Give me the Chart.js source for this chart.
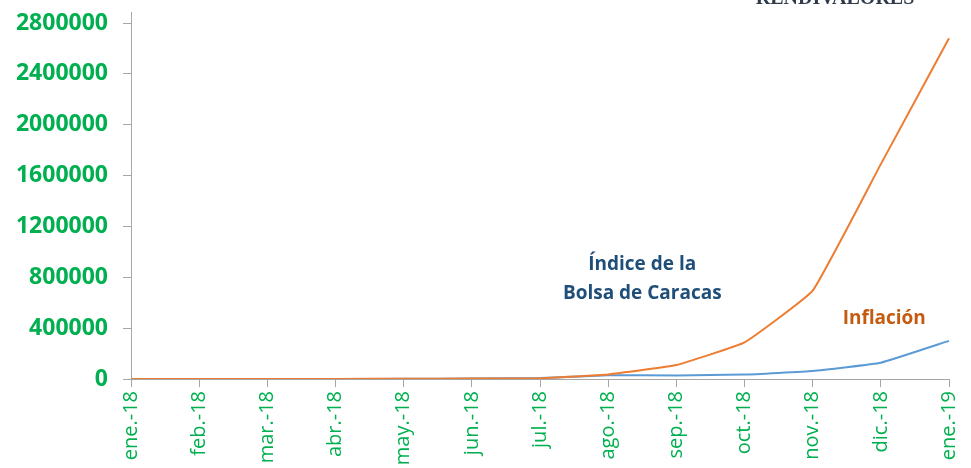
<!DOCTYPE html>
<html>
<head>
<meta charset="utf-8">
<script src="https://cdn.jsdelivr.net/npm/chart.js@4.4.1/dist/chart.umd.min.js"></script>
<style>
  html, body { margin: 0; padding: 0; background: #fff; }
</style>
</head>
<body>
<canvas id="chartCanvas" width="971" height="468"></canvas>
<script>
"use strict";

const labels = ['ene.-18', 'feb.-18', 'mar.-18', 'abr.-18', 'may.-18', 'jun.-18', 'jul.-18',
    'ago.-18', 'sep.-18', 'oct.-18', 'nov.-18', 'dic.-18', 'ene.-19'];
const inflacion = [100, 200, 400, 700, 1500, 3000, 6000, 36000, 110000, 288000, 695000, 1690000, 2680000];
const bolsa = [100, 150, 300, 500, 1500, 4000, 7000, 29000, 28000, 35000, 63000, 128000, 300000];
const yTicks = [0, 400000, 800000, 1200000, 1600000, 2000000, 2400000, 2800000];

const green = '#00B050';
const axisGray = '#A6A6A6';

// texts drawn inside the plot
const notes = {
    id: 'notes',
    afterDraw(chart) {
        const c = chart.ctx;
        const x = chart.scales.x, y = chart.scales.y;
        const area = chart.chartArea;
        c.save();
        // axis line running a little above the top tick
        c.strokeStyle = axisGray;
        c.lineWidth = 1;
        c.beginPath();
        c.moveTo(area.left + 0.5, area.top - 11);
        c.lineTo(area.left + 0.5, area.top);
        c.stroke();

        c.textAlign = 'center';
        c.textBaseline = 'middle';
        c.font = 'bold 19px "Open Sans"';
        c.fillStyle = '#1F4E79';
        const bx = (x.getPixelForValue(7) + x.getPixelForValue(8)) / 2;
        c.fillText('Índice de la', bx, y.getPixelForValue(897000));
        c.fillText('Bolsa de Caracas', bx, y.getPixelForValue(668000));
        c.fillStyle = '#C55A11';
        c.fillText('Inflación', x.getPixelForValue(11.05), y.getPixelForValue(472000));

        c.font = 'bold 20px "Liberation Serif"';
        c.fillStyle = '#2F3B4C';
        c.textBaseline = 'alphabetic';
        c.fillText('RENDIVALORES', 835, 4);
        c.restore();
    }
};

const ctx = document.getElementById('chartCanvas');

new Chart(ctx, {
    type: 'line',
    data: {
        labels: labels,
        datasets: [{
            label: 'Inflación',
            data: inflacion,
            borderColor: '#ED7D31',
            borderWidth: 2,
            pointRadius: 0,
            tension: 0.1,
            fill: false
        },
        {
            label: 'Índice de la Bolsa de Caracas',
            data: bolsa,
            borderColor: '#5B9BD5',
            borderWidth: 2,
            pointRadius: 0,
            tension: 0.1,
            fill: false
        }]
    },
    options: {
        responsive: false,
        animation: false,
        devicePixelRatio: 1,
        layout: { padding: { top: 23, right: 22, left: 0, bottom: 0 } },
        plugins: {
            legend: { display: false },
            tooltip: { enabled: false }
        },
        scales: {
            x: {
                offset: false,
                grid: { display: true, drawOnChartArea: false, drawTicks: true, tickLength: 8, color: axisGray },
                border: { display: true, color: axisGray },
                ticks: {
                    color: green,
                    font: { family: '"Open Sans"', size: 20 },
                    minRotation: 90,
                    maxRotation: 90,
                    autoSkip: false,
                    padding: 4
                },
                afterFit(axis) {
                    axis.height = 89;
                    axis.paddingLeft = 0;
                    axis.paddingRight = 0;
                }
            },
            y: {
                min: 0,
                max: 2800000,
                afterBuildTicks(axis) { axis.ticks = yTicks.map(v => ({ value: v })); },
                grid: { display: true, drawOnChartArea: false, drawTicks: true, tickLength: 8, color: axisGray },
                border: { display: true, color: axisGray },
                ticks: {
                    color: green,
                    font: { family: '"Open Sans"', size: 23, weight: 'bold' },
                    padding: 15,
                    callback: v => String(v)
                },
                afterFit(axis) {
                    axis.width = 131;
                    axis.paddingTop = 0;
                    axis.paddingBottom = 0;
                }
            }
        }
    },
    plugins: [notes]
});
</script>
</body>
</html>
